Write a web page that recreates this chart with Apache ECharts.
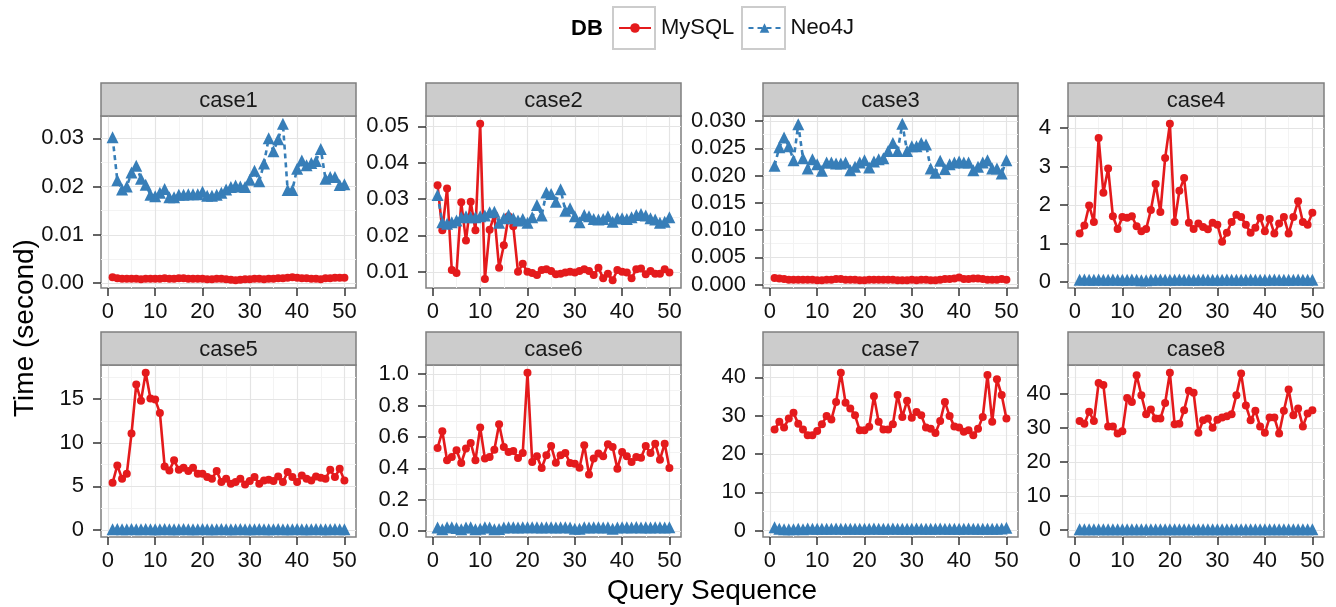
<!DOCTYPE html>
<html><head><meta charset="utf-8">
<script src="https://cdn.jsdelivr.net/npm/echarts@6/dist/echarts.min.js"></script>
<style>html,body{margin:0;padding:0;background:#fff}#c{width:1336px;height:607px}</style>
</head><body><div id="c"></div>
<script>
// ---------- data ----------
const caseNames = ['case1','case2','case3','case4','case5','case6','case7','case8'];
const seriesNames = ['MySQL','Neo4J'];
const querySeq = [1,2,3,4,5,6,7,8,9,10,11,12,13,14,15,16,17,18,19,20,21,22,23,24,25,26,27,28,29,30,31,32,33,34,35,36,37,38,39,40,41,42,43,44,45,46,47,48,49,50];
const xTicks = [0,10,20,30,40,50];
const xMinor = [5,15,25,35,45];

const mysql_case1 = [0.0012,0.0010,0.0009,0.0009,0.0009,0.0009,0.0008,0.0009,0.0009,0.0009,0.0009,0.0010,0.0009,0.0009,0.0010,0.0010,0.0009,0.0009,0.0009,0.0009,0.0008,0.0008,0.0009,0.0009,0.0008,0.0007,0.0006,0.0007,0.0008,0.0008,0.0009,0.0009,0.0008,0.0009,0.0009,0.0010,0.0010,0.0011,0.0012,0.0011,0.0010,0.0010,0.0009,0.0009,0.0008,0.0010,0.0010,0.0011,0.0011,0.0011];
const neo4j_case1 = [0.0302,0.0213,0.0194,0.0200,0.0229,0.0243,0.0216,0.0204,0.0183,0.0180,0.0187,0.0195,0.0178,0.0178,0.0183,0.0183,0.0184,0.0184,0.0184,0.0189,0.0181,0.0181,0.0183,0.0187,0.0194,0.0199,0.0202,0.0200,0.0199,0.0214,0.0233,0.0211,0.0248,0.0300,0.0273,0.0298,0.0330,0.0193,0.0193,0.0237,0.0254,0.0244,0.0249,0.0253,0.0278,0.0216,0.0220,0.0220,0.0203,0.0205];

const mysql_case2 = [0.0338,0.0214,0.0329,0.0105,0.0097,0.0291,0.0186,0.0293,0.0214,0.0507,0.0080,0.0216,0.0256,0.0111,0.0173,0.0253,0.0225,0.0100,0.0122,0.0100,0.0097,0.0091,0.0105,0.0107,0.0102,0.0093,0.0095,0.0098,0.0100,0.0098,0.0102,0.0107,0.0102,0.0091,0.0111,0.0082,0.0095,0.0077,0.0105,0.0100,0.0098,0.0082,0.0107,0.0109,0.0093,0.0102,0.0095,0.0095,0.0107,0.0098];
const neo4j_case2 = [0.0311,0.0236,0.0232,0.0236,0.0241,0.0250,0.0253,0.0250,0.0250,0.0253,0.0255,0.0264,0.0265,0.0235,0.0247,0.0256,0.0247,0.0241,0.0245,0.0235,0.0250,0.0284,0.0255,0.0318,0.0314,0.0293,0.0327,0.0268,0.0275,0.0253,0.0236,0.0256,0.0253,0.0245,0.0244,0.0245,0.0253,0.0238,0.0247,0.0247,0.0245,0.0250,0.0256,0.0259,0.0255,0.0247,0.0244,0.0235,0.0238,0.0250];

const mysql_case3 = [0.0012,0.0011,0.0010,0.0009,0.0009,0.0009,0.0009,0.0009,0.0009,0.0008,0.0008,0.0009,0.0009,0.0010,0.0010,0.0009,0.0009,0.0009,0.0008,0.0008,0.0009,0.0009,0.0009,0.0009,0.0009,0.0009,0.0008,0.0008,0.0008,0.0009,0.0008,0.0009,0.0009,0.0008,0.0008,0.0009,0.0010,0.0010,0.0011,0.0013,0.0010,0.0010,0.0011,0.0011,0.0010,0.0009,0.0009,0.0009,0.0010,0.0009];
const neo4j_case3 = [0.0218,0.0252,0.0270,0.0254,0.0228,0.0294,0.0232,0.0213,0.0230,0.0221,0.0209,0.0224,0.0224,0.0222,0.0222,0.0224,0.0210,0.0216,0.0224,0.0228,0.0215,0.0226,0.0230,0.0232,0.0245,0.0260,0.0245,0.0295,0.0245,0.0254,0.0254,0.0260,0.0257,0.0213,0.0205,0.0227,0.0212,0.0221,0.0224,0.0226,0.0224,0.0224,0.0210,0.0216,0.0224,0.0228,0.0213,0.0213,0.0204,0.0228];

const mysql_case4 = [1.26,1.47,1.99,1.56,3.74,2.32,2.95,1.71,1.38,1.69,1.67,1.71,1.45,1.32,1.38,1.87,2.55,1.82,3.22,4.11,1.56,2.37,2.70,1.54,1.38,1.52,1.43,1.37,1.54,1.49,1.05,1.28,1.56,1.75,1.69,1.49,1.28,1.41,1.67,1.32,1.64,1.26,1.52,1.69,1.26,1.69,2.10,1.56,1.49,1.80];
const neo4j_case4 = [0.06,0.07,0.06,0.06,0.07,0.06,0.06,0.07,0.06,0.06,0.06,0.07,0.06,0.05,0.05,0.06,0.06,0.07,0.06,0.06,0.06,0.07,0.06,0.06,0.06,0.06,0.07,0.06,0.06,0.06,0.06,0.07,0.06,0.06,0.06,0.06,0.07,0.06,0.06,0.06,0.06,0.07,0.06,0.06,0.06,0.06,0.07,0.06,0.06,0.06];

const mysql_case5 = [5.41,7.40,5.87,6.44,11.05,16.69,14.81,18.03,15.07,14.96,13.43,7.29,6.83,7.98,6.90,7.13,6.75,7.13,6.44,6.44,6.06,5.87,6.75,5.49,5.87,5.29,5.49,5.87,5.22,5.60,6.06,5.29,5.68,5.75,5.60,6.14,5.49,6.64,6.06,5.49,6.25,5.87,5.68,6.14,5.98,5.87,6.90,6.06,7.02,5.68];
const neo4j_case5 = [0.08,0.09,0.08,0.08,0.09,0.08,0.08,0.09,0.08,0.08,0.08,0.09,0.08,0.08,0.08,0.09,0.08,0.08,0.08,0.09,0.08,0.08,0.08,0.09,0.08,0.08,0.08,0.09,0.08,0.08,0.08,0.09,0.08,0.08,0.08,0.09,0.08,0.08,0.08,0.09,0.08,0.08,0.08,0.09,0.08,0.08,0.08,0.09,0.08,0.08];

const mysql_case6 = [0.530,0.636,0.451,0.472,0.515,0.434,0.526,0.562,0.451,0.660,0.462,0.472,0.519,0.681,0.536,0.504,0.511,0.466,0.498,1.009,0.440,0.477,0.402,0.483,0.543,0.436,0.483,0.498,0.434,0.430,0.404,0.547,0.360,0.462,0.494,0.477,0.553,0.536,0.398,0.504,0.477,0.440,0.472,0.468,0.543,0.498,0.557,0.455,0.557,0.402];
const neo4j_case6 = [0.022,0.012,0.024,0.025,0.020,0.012,0.022,0.024,0.012,0.014,0.024,0.022,0.012,0.013,0.022,0.024,0.024,0.022,0.024,0.025,0.024,0.024,0.022,0.024,0.024,0.022,0.024,0.024,0.022,0.014,0.015,0.024,0.022,0.024,0.024,0.022,0.024,0.014,0.022,0.024,0.024,0.022,0.026,0.022,0.024,0.022,0.024,0.024,0.022,0.024];

const mysql_case7 = [26.4,28.4,26.9,29.3,30.8,27.9,26.4,24.9,24.9,26.0,27.8,29.9,29.0,33.6,41.2,33.4,31.9,30.1,26.2,26.2,27.1,35.1,28.4,26.4,26.4,27.8,35.4,29.7,33.9,29.5,31.0,30.1,26.9,26.6,25.5,28.6,33.6,29.9,27.2,26.9,25.8,26.2,24.9,26.6,29.7,40.6,28.4,39.5,35.4,29.3];
const neo4j_case7 = [0.9,0.5,0.4,0.4,0.4,0.5,0.4,0.6,0.5,0.5,0.5,0.5,0.5,0.6,0.5,0.5,0.5,0.5,0.5,0.5,0.5,0.6,0.5,0.5,0.5,0.6,0.5,0.5,0.5,0.5,0.6,0.5,0.5,0.5,0.5,0.6,0.5,0.5,0.5,0.5,0.5,0.6,0.5,0.5,0.5,0.5,0.5,0.5,0.6,0.8];

const mysql_case8 = [32.1,31.3,34.8,32.1,43.3,42.7,30.5,30.5,28.4,29.1,38.9,37.7,45.6,39.7,34.1,35.5,32.8,32.8,37.4,46.3,31.1,31.3,35.3,41.0,40.4,28.6,32.3,32.8,30.1,32.5,33.1,33.5,34.1,39.7,46.1,36.7,32.3,35.1,30.5,28.6,33.1,33.1,28.4,35.1,41.4,33.8,35.8,30.5,34.3,35.3];
const neo4j_case8 = [0.2,0.2,0.2,0.2,0.2,0.2,0.2,0.2,0.2,0.2,0.2,0.2,0.2,0.2,0.2,0.2,0.2,0.2,0.2,0.2,0.2,0.2,0.2,0.2,0.2,0.2,0.2,0.2,0.2,0.2,0.2,0.2,0.2,0.2,0.2,0.2,0.2,0.2,0.2,0.2,0.2,0.2,0.2,0.2,0.2,0.2,0.2,0.2,0.2,0.2];

const yTicks_case1 = [0,0.01,0.02,0.03];
const yTicks_case2 = [0.01,0.02,0.03,0.04,0.05];
const yTicks_case3 = [0,0.005,0.010,0.015,0.020,0.025,0.030];
const yTicks_case4 = [0,1,2,3,4];
const yTicks_case5 = [0,5,10,15];
const yTicks_case6 = [0,0.2,0.4,0.6,0.8,1.0];
const yTicks_case7 = [0,10,20,30,40];
const yTicks_case8 = [0,10,20,30,40];
const yDecimals = [2,2,3,0,0,1,0,0];

// ---------- layout / style ----------
const FONT = "'Liberation Sans', Arial, Helvetica, sans-serif";
const gridLeft = [101,426,763,1068];
const gridWidth = [255,255,255,256];
const gridTop = [116,365];
const gridHeight = 172;
const stripH = 33;
const RED = '#E41A1C', BLUE = '#377EB8';

const mysqlAll = [mysql_case1,mysql_case2,mysql_case3,mysql_case4,mysql_case5,mysql_case6,mysql_case7,mysql_case8];
const neoAll = [neo4j_case1,neo4j_case2,neo4j_case3,neo4j_case4,neo4j_case5,neo4j_case6,neo4j_case7,neo4j_case8];
const yTicksAll = [yTicks_case1,yTicks_case2,yTicks_case3,yTicks_case4,yTicks_case5,yTicks_case6,yTicks_case7,yTicks_case8];

function midpoints(t, lo, hi) {
  const step = t[1]-t[0];
  const out = [];
  for (let v = t[0]-step/2; v <= hi; v += step) { if (v >= lo) out.push(+v.toFixed(6)); }
  return out;
}

const xLo = Math.min(...querySeq), xHi = Math.max(...querySeq);
const xPad = (xHi - xLo) * 0.05;

const grids = [], xAxes = [], yAxes = [], series = [], graphics = [];
for (let i = 0; i < 8; i++) {
  const col = i % 4, row = Math.floor(i / 4);
  grids.push({left: gridLeft[col], top: gridTop[row], width: gridWidth[col], height: gridHeight,
    show: true, backgroundColor: '#fff', borderColor: '#7F7F7F', borderWidth: 1.5,
    containLabel: false, outerBoundsMode: 'none'});
  const all = mysqlAll[i].concat(neoAll[i]);
  const lo = Math.min(...all), hi = Math.max(...all), r = hi - lo;
  const yMin = lo - 0.05 * r, yMax = hi + 0.05 * r;
  const ticks = yTicksAll[i];
  const minor = midpoints(ticks, yMin, yMax);
  const dec = yDecimals[i];
  xAxes.push({gridIndex: i, type: 'value', position: 'bottom', min: xLo - xPad, max: xHi + xPad,
    axisLine: {show: false, onZero: false},
    axisTick: {show: true, length: 8, customValues: xTicks, lineStyle: {color: '#333', width: 1.5}},
    axisLabel: {show: true, customValues: xTicks, margin: 13, fontSize: 22, color: '#111', fontFamily: FONT},
    splitLine: {show: true, lineStyle: {color: '#E4E4E4', width: 1.2}}, z: 1});
  xAxes.push({gridIndex: i, type: 'value', position: 'top', min: xLo - xPad, max: xHi + xPad,
    axisLine: {show: false, onZero: false},
    axisTick: {show: false, customValues: xMinor}, axisLabel: {show: false, customValues: xMinor},
    splitLine: {show: true, lineStyle: {color: '#F3F3F3', width: 1}}, z: 0});
  yAxes.push({gridIndex: i, type: 'value', position: 'left', min: yMin, max: yMax,
    axisLine: {show: false, onZero: false},
    axisTick: {show: true, length: 8, customValues: ticks, lineStyle: {color: '#333', width: 1.5}},
    axisLabel: {show: true, customValues: ticks, margin: 17, fontSize: 22, color: '#111', fontFamily: FONT,
      formatter: v => Number(v).toFixed(dec)},
    splitLine: {show: true, lineStyle: {color: '#E4E4E4', width: 1.2}}, z: 1});
  yAxes.push({gridIndex: i, type: 'value', position: 'right', min: yMin, max: yMax,
    axisLine: {show: false, onZero: false},
    axisTick: {show: false, customValues: minor}, axisLabel: {show: false, customValues: minor},
    splitLine: {show: true, lineStyle: {color: '#F3F3F3', width: 1}}, z: 0});
  series.push({name: seriesNames[0], type: 'line', xAxisIndex: 2*i, yAxisIndex: 2*i,
    data: querySeq.map((q, k) => [q, mysqlAll[i][k]]),
    symbol: 'circle', symbolSize: 8, showSymbol: true,
    lineStyle: {color: RED, width: 2.6, type: 'solid'}, itemStyle: {color: RED},
    emphasis: {disabled: true}, z: 3});
  series.push({name: seriesNames[1], type: 'line', xAxisIndex: 2*i, yAxisIndex: 2*i,
    data: querySeq.map((q, k) => [q, neoAll[i][k]]),
    symbol: 'triangle', symbolSize: 12, showSymbol: true,
    lineStyle: {color: BLUE, width: 2.6, type: [5, 4]}, itemStyle: {color: BLUE},
    emphasis: {disabled: true}, z: 3});
  // strip
  graphics.push({type: 'rect', shape: {x: gridLeft[col], y: gridTop[row] - stripH, width: gridWidth[col], height: stripH},
    style: {fill: '#CCCCCC', stroke: '#7F7F7F', lineWidth: 1.5}, z: 5});
  graphics.push({type: 'text', x: gridLeft[col] + gridWidth[col] / 2, y: gridTop[row] - stripH / 2 + 1,
    style: {text: caseNames[i], fontSize: 22, fontFamily: FONT, fill: '#1A1A1A',
      align: 'center', verticalAlign: 'middle', textAlign: 'center', textVerticalAlign: 'middle'}, z: 6});
}

// legend key boxes, legend title, axis titles
graphics.push({type: 'rect', shape: {x: 613, y: 7, width: 42, height: 42}, style: {fill: '#fff', stroke: '#CCCCCC', lineWidth: 2}, z: 0});
graphics.push({type: 'rect', shape: {x: 742, y: 7, width: 43, height: 42}, style: {fill: '#fff', stroke: '#CCCCCC', lineWidth: 2}, z: 0});
graphics.push({type: 'text', x: 571, y: 29, style: {text: 'DB', fontSize: 22, fontWeight: 'bold', fontFamily: FONT, fill: '#000',
  align: 'left', verticalAlign: 'middle', textAlign: 'left', textVerticalAlign: 'middle'}});
graphics.push({type: 'text', x: 712, y: 591, style: {text: 'Query Sequence', fontSize: 28, fontFamily: FONT, fill: '#000',
  align: 'center', verticalAlign: 'middle', textAlign: 'center', textVerticalAlign: 'middle'}});
graphics.push({type: 'text', x: 25, y: 328, rotation: Math.PI / 2, style: {text: 'Time (second)', fontSize: 28, fontFamily: FONT, fill: '#000',
  align: 'center', verticalAlign: 'middle', textAlign: 'center', textVerticalAlign: 'middle'}});

const legendCommon = {top: 17, padding: 0, itemWidth: 32, itemHeight: 12, selectedMode: false, orient: 'horizontal',
  textStyle: {fontSize: 22, color: '#111', fontFamily: FONT, padding: [0, 0, 0, 5], lineHeight: 22}};

const chart = echarts.init(document.getElementById('c'), null, {renderer: 'canvas'});
chart.setOption({
  animation: false,
  backgroundColor: '#fff',
  textStyle: {fontFamily: FONT},
  legend: [
    Object.assign({}, legendCommon, {data: [seriesNames[0]], left: 618}),
    Object.assign({}, legendCommon, {data: [seriesNames[1]], left: 747.5})
  ],
  grid: grids,
  xAxis: xAxes,
  yAxis: yAxes,
  series: series,
  graphic: {elements: graphics}
});
</script></body></html>
